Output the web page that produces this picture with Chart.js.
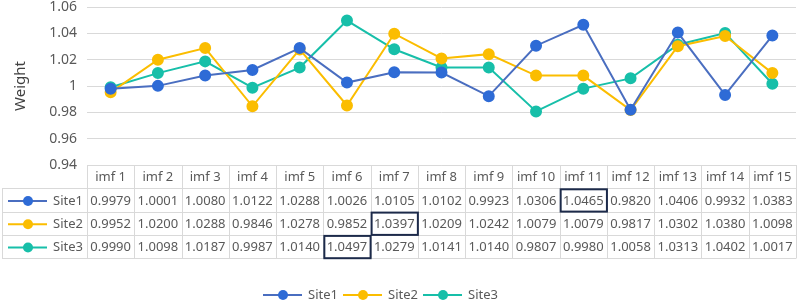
<!DOCTYPE html>
<html>
<head>
<meta charset="utf-8">
<script src="https://cdn.jsdelivr.net/npm/chart.js@4/dist/chart.umd.min.js"></script>
<style>
  html, body { margin: 0; padding: 0; background: #fff; }
  #wrap { width: 803px; height: 303px; }
</style>
</head>
<body>
<div id="wrap"><canvas id="chart-weight"></canvas></div>
<script>
// categories + values
const labels = ["imf 1", "imf 2", "imf 3", "imf 4", "imf 5", "imf 6", "imf 7", "imf 8",
  "imf 9", "imf 10", "imf 11", "imf 12", "imf 13", "imf 14", "imf 15"];
const site1 = [0.9979, 1.0001, 1.0080, 1.0122, 1.0288, 1.0026, 1.0105, 1.0102,
  0.9923, 1.0306, 1.0465, 0.9820, 1.0406, 0.9932, 1.0383];
const site2 = [0.9952, 1.0200, 1.0288, 0.9846, 1.0278, 0.9852, 1.0397, 1.0209,
  1.0242, 1.0079, 1.0079, 0.9817, 1.0302, 1.0380, 1.0098];
const site3 = [0.9990, 1.0098, 1.0187, 0.9987, 1.0140, 1.0497, 1.0279, 1.0141,
  1.0140, 0.9807, 0.9980, 1.0058, 1.0313, 1.0402, 1.0017];
const yTicks = [0.94, 0.96, 0.98, 1, 1.02, 1.04, 1.06];

const FONT = "'Noto Sans', 'Open Sans', sans-serif";
const TEXT = "#595959";
const GRID = "#d9d9d9";

// draw one legend key (line with dot in the middle)
function drawKey(ctx, x, y, lineColor, dotColor) {
  ctx.strokeStyle = lineColor;
  ctx.lineWidth = 2;
  ctx.beginPath();
  ctx.moveTo(x, y);
  ctx.lineTo(x + 39, y);
  ctx.stroke();
  ctx.fillStyle = dotColor;
  ctx.beginPath();
  ctx.arc(x + 20, y, 5, 0, Math.PI * 2);
  ctx.fill();
}

// data table under the plot + bottom legend
const tablePlugin = {
  id: "dataTable",
  afterDraw(chart) {
    const ctx = chart.ctx;
    const area = chart.chartArea;
    const colW = (area.right - area.left) / labels.length;
    const rowH = 23.3;
    const top = area.bottom;
    const firstX = 2;
    const ds = chart.data.datasets;

    ctx.save();
    ctx.font = "13px " + FONT;
    ctx.textBaseline = "middle";
    ctx.strokeStyle = GRID;
    ctx.lineWidth = 1;

    // header row borders
    ctx.beginPath();
    ctx.moveTo(area.left, top + 0.5);
    ctx.lineTo(area.right, top + 0.5);
    for (let r = 1; r <= 4; r++) {
      const y = Math.round(top + r * rowH) + 0.5;
      ctx.moveTo(firstX, y);
      ctx.lineTo(area.right, y);
    }
    ctx.moveTo(firstX + 0.5, Math.round(top + rowH) + 0.5);
    ctx.lineTo(firstX + 0.5, Math.round(top + 4 * rowH) + 0.5);
    for (let c = 0; c <= labels.length; c++) {
      const x = Math.round(area.left + c * colW) + 0.5;
      ctx.moveTo(x, top);
      ctx.lineTo(x, Math.round(top + 4 * rowH) + 0.5);
    }
    ctx.stroke();

    // header text
    ctx.fillStyle = TEXT;
    ctx.textAlign = "center";
    labels.forEach((l, c) => {
      ctx.fillText(l, area.left + (c + 0.5) * colW, top + rowH / 2 + 1);
    });

    // rows
    ds.forEach((d, r) => {
      const yc = top + (r + 1.5) * rowH + 1;
      drawKey(ctx, 8, yc, d.borderColor, d.pointBackgroundColor);
      ctx.fillStyle = TEXT;
      ctx.textAlign = "left";
      ctx.fillText(d.label, 53, yc);
      ctx.textAlign = "center";
      d.data.forEach((v, c) => {
        ctx.fillText(v.toFixed(4), area.left + (c + 0.5) * colW, yc);
      });
      // box around the largest weight of each site
      const maxIdx = d.data.indexOf(Math.max(...d.data));
      ctx.strokeStyle = "#1c2a4a";
      ctx.lineWidth = 2;
      ctx.strokeRect(area.left + maxIdx * colW + 1, top + (r + 1) * rowH + 1, colW - 1, rowH - 1);
      ctx.strokeStyle = GRID;
      ctx.lineWidth = 1;
    });

    // bottom legend
    const legY = 295;
    const legX = [263, 343, 423];
    ds.forEach((d, i) => {
      drawKey(ctx, legX[i], legY, d.borderColor, d.pointBackgroundColor);
      ctx.fillStyle = TEXT;
      ctx.textAlign = "left";
      ctx.fillText(d.label, legX[i] + 45, legY);
    });
    ctx.restore();
  },
};

function series(label, data, line, dot) {
  return {
    label: label,
    data: data,
    borderColor: line,
    backgroundColor: dot,
    pointBackgroundColor: dot,
    pointBorderColor: dot,
    borderWidth: 2,
    pointRadius: 5,
    pointHoverRadius: 5,
    tension: 0,
  };
}

new Chart(document.getElementById("chart-weight"), {
  type: "line",
  data: {
    labels: labels,
    datasets: [
      series("Site1", site1, "#4a6ec0", "#2e6bd6"),
      series("Site2", site2, "#fbbd00", "#fbbd00"),
      series("Site3", site3, "#17bfa9", "#17bfa9"),
    ],
  },
  options: {
    responsive: true,
    maintainAspectRatio: false,
    animation: false,
    layout: { padding: { top: 6, right: 3, bottom: 138, left: 0 } },
    plugins: {
      legend: { display: false },
      tooltip: { enabled: false },
    },
    scales: {
      x: {
        display: false,
        offset: true,
      },
      y: {
        min: yTicks[0],
        max: yTicks[yTicks.length - 1],
        afterBuildTicks(scale) {
          scale.ticks = yTicks.map((v) => ({ value: v }));
        },
        afterFit(scale) {
          scale.width = 87;
          scale.paddingTop = 0;
          scale.paddingBottom = 0;
        },
        ticks: {
          color: TEXT,
          font: { family: FONT, size: 14 },
          padding: 10,
          callback: (v) => String(+v.toFixed(2)),
        },
        grid: { color: GRID, drawTicks: false },
        border: { display: false },
        title: {
          display: true,
          text: "Weight",
          color: "#404040",
          font: { family: FONT, size: 15 },
          padding: { top: 12, bottom: 0 },
        },
      },
    },
  },
  plugins: [tablePlugin],
});
</script>
</body>
</html>
